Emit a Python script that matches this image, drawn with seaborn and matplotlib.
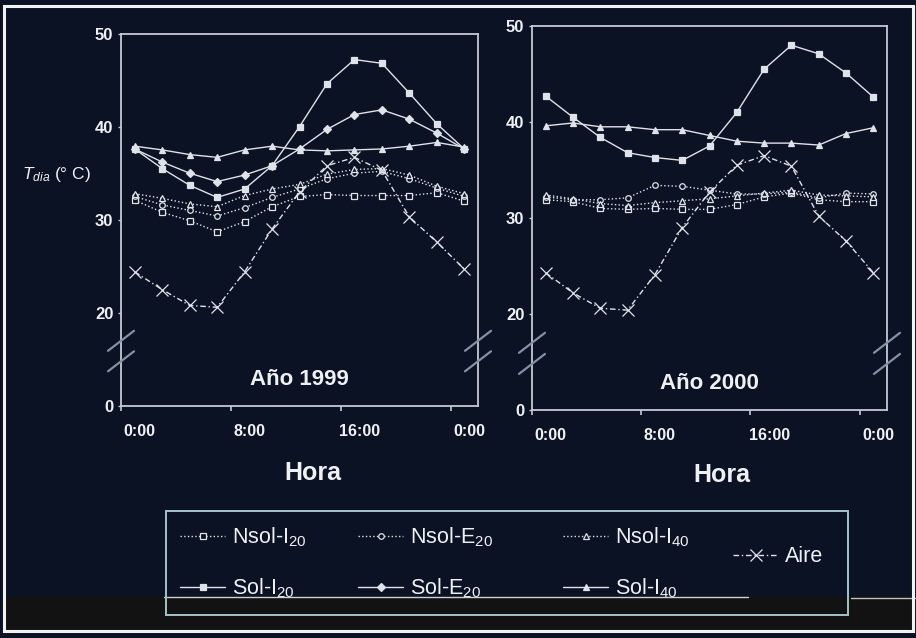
import numpy as np
import pandas as pd
import seaborn as sns
import matplotlib.pyplot as plt
from matplotlib.lines import Line2D
from matplotlib.patches import Rectangle
from matplotlib.ticker import FixedLocator
from matplotlib.transforms import IdentityTransform, ScaledTranslation

# ---- data -----------------------------------------------------------------
horas = np.arange(0, 25, 2)                 # one value every two hours
tick_horas = [0, 8, 16, 24]
tick_labels = ["0:00", "8:00", "16:00", "0:00"]
y_ticks = [10, 20, 30, 40, 50]               # axis is broken below 20
y_tick_labels = ["0", "20", "30", "40", "50"]
series = ["Nsol-I20", "Nsol-E20", "Nsol-I40", "Aire", "Sol-I20", "Sol-E20", "Sol-I40"]

# Año 1999
nsol_i20_1999 = [32.1, 30.8, 29.9, 28.7, 29.8, 31.4, 32.5, 32.7, 32.6, 32.6, 32.6, 32.9, 32.0]
nsol_e20_1999 = [32.5, 31.6, 31.0, 30.4, 31.3, 32.4, 33.3, 34.4, 35.0, 35.2, 34.4, 33.4, 32.5]
nsol_i40_1999 = [32.8, 32.3, 31.7, 31.4, 32.6, 33.3, 33.8, 34.9, 35.4, 35.5, 34.8, 33.6, 32.8]
sol_i20_1999 = [37.6, 35.5, 33.7, 32.4, 33.3, 35.8, 40.0, 44.6, 47.2, 46.8, 43.6, 40.3, 37.6]
sol_e20_1999 = [37.6, 36.2, 35.0, 34.1, 34.8, 35.8, 37.6, 39.7, 41.3, 41.8, 40.8, 39.3, 37.6]
sol_i40_1999 = [37.9, 37.5, 37.0, 36.7, 37.5, 37.9, 37.5, 37.4, 37.5, 37.6, 37.9, 38.3, 37.8]
aire_1999 = [24.4, 22.5, 20.8, 20.6, 24.4, 29.0, 33.0, 35.8, 36.7, 35.3, 30.3, 27.6, 24.7]

# Año 2000
nsol_i20_2000 = [31.9, 31.7, 31.0, 30.9, 31.0, 30.9, 30.9, 31.4, 32.2, 32.6, 31.9, 31.7, 31.7]
nsol_e20_2000 = [32.2, 31.9, 31.9, 32.1, 33.4, 33.3, 32.9, 32.5, 32.5, 32.7, 32.1, 32.6, 32.5]
nsol_i40_2000 = [32.4, 32.0, 31.5, 31.3, 31.6, 31.8, 32.0, 32.3, 32.6, 32.9, 32.4, 32.3, 32.2]
sol_i20_2000 = [42.7, 40.5, 38.4, 36.8, 36.3, 36.0, 37.5, 41.0, 45.5, 48.0, 47.1, 45.1, 42.6]
sol_i40_2000 = [39.6, 39.9, 39.5, 39.5, 39.2, 39.2, 38.6, 38.0, 37.8, 37.8, 37.6, 38.8, 39.4]
aire_2000 = [24.3, 22.2, 20.6, 20.4, 24.1, 29.0, 32.7, 35.5, 36.5, 35.4, 30.2, 27.6, 24.3]

data_1999 = {
    "Nsol-I20": nsol_i20_1999, "Nsol-E20": nsol_e20_1999, "Nsol-I40": nsol_i40_1999,
    "Aire": aire_1999, "Sol-I20": sol_i20_1999, "Sol-E20": sol_e20_1999,
    "Sol-I40": sol_i40_1999,
}
data_2000 = {
    "Nsol-I20": nsol_i20_2000, "Nsol-E20": nsol_e20_2000, "Nsol-I40": nsol_i40_2000,
    "Aire": aire_2000, "Sol-I20": sol_i20_2000, "Sol-I40": sol_i40_2000,
}

# ---- style ----------------------------------------------------------------
BG = "#0b1224"
FG = "#eef1f4"
LINE = "#dde3e8"
SPINE = "#c3cad2"

sns.set_theme(style="ticks", rc={
    "figure.facecolor": BG, "axes.facecolor": BG, "savefig.facecolor": BG,
    "axes.edgecolor": SPINE, "axes.linewidth": 1.2,
    "text.color": FG, "axes.labelcolor": FG,
    "xtick.color": SPINE, "ytick.color": SPINE,
    "xtick.labelcolor": FG, "ytick.labelcolor": FG,
})
plt.rcParams["font.family"] = ["Liberation Sans", "DejaVu Sans"]
plt.rcParams["mathtext.fontset"] = "custom"
plt.rcParams["mathtext.rm"] = "Liberation Sans"
plt.rcParams["mathtext.it"] = "Liberation Sans:italic"
plt.rcParams["mathtext.bf"] = "Liberation Sans:bold"

styles = {
    "Nsol-I20": dict(ls=":", marker="s", ms=4.0, mfc=BG, mec=LINE),
    "Nsol-E20": dict(ls=":", marker="o", ms=4.0, mfc=BG, mec=LINE),
    "Nsol-I40": dict(ls=":", marker="^", ms=4.2, mfc=BG, mec=LINE),
    "Aire": dict(ls=(0, (4, 2, 1, 2)), marker="x", ms=8, mfc=LINE, mec=LINE),
    "Sol-I20": dict(ls="-", marker="s", ms=4.2, mfc=LINE, mec=LINE),
    "Sol-E20": dict(ls="-", marker="D", ms=3.6, mfc=LINE, mec=LINE),
    "Sol-I40": dict(ls="-", marker="^", ms=4.4, mfc=LINE, mec=LINE),
}
legend_labels = {
    "Nsol-I20": r"Nsol-I$_{20}$", "Nsol-E20": r"Nsol-E$_{20}$",
    "Nsol-I40": r"Nsol-I$_{40}$", "Aire": "Aire",
    "Sol-I20": r"Sol-I$_{20}$", "Sol-E20": r"Sol-E$_{20}$", "Sol-I40": r"Sol-I$_{40}$",
}

W, H = 916, 638
fig = plt.figure(figsize=(W / 100, H / 100), dpi=100)


def px_axes(left, top, right, bottom):
    return fig.add_axes([left / W, 1 - bottom / H, (right - left) / W, (bottom - top) / H])


ax1 = px_axes(121, 33.5, 478, 406)
ax2 = px_axes(532, 26, 887, 410)


def draw_panel(ax, data, titulo):
    for name in series:
        if name not in data:
            continue
        df = pd.DataFrame({"hora": horas, "T": data[name]})
        st = styles[name]
        sns.lineplot(data=df, x="hora", y="T", ax=ax, color=LINE, lw=1.0,
                     linestyle=st["ls"], marker=st["marker"], ms=st["ms"],
                     mfc=st["mfc"], mec=st["mec"], mew=0.9,
                     label=legend_labels[name], legend=False)
    if ax.get_legend() is not None:
        ax.get_legend().remove()

    ax.set_xlim(horas[0] - 1, horas[-1] + 1)
    ax.set_ylim(y_ticks[0], y_ticks[-1])
    ax.xaxis.set_major_locator(FixedLocator(tick_horas))
    ax.set_xticklabels(tick_labels)
    ax.xaxis.set_minor_locator(FixedLocator([h - 1 for h in tick_horas]))
    ax.set_yticks(y_ticks, y_tick_labels)
    ax.tick_params(axis="x", which="major", length=0, pad=13, labelsize=11.5)
    ax.tick_params(axis="x", which="minor", length=3.5, width=1.2, direction="out")
    ax.tick_params(axis="y", length=2.5, width=1, pad=3, labelsize=12)
    shift = ScaledTranslation(5 / 100, 0, fig.dpi_scale_trans)
    for lab in ax.get_xticklabels():
        lab.set_fontweight("bold")
        lab.set_transform(lab.get_transform() + shift)
    for lab in ax.get_yticklabels():
        lab.set_fontweight("bold")
    for sp in ax.spines.values():
        sp.set_visible(True)
        sp.set_color(SPINE)
        sp.set_linewidth(1.3)

    ax.set_xlabel("Hora", fontsize=18, fontweight="bold", color=FG)
    ax.set_ylabel("")
    ax.xaxis.label.set_va("center")
    ax.text(0.5, 0.07, titulo, transform=ax.transAxes, ha="center", va="center",
            fontsize=16, fontweight="bold", color=FG)


draw_panel(ax1, data_1999, "Año 1999")
draw_panel(ax2, data_2000, "Año 2000")
ax1.xaxis.set_label_coords(0.538, -0.18)
ax2.xaxis.set_label_coords(0.535, -0.169)

fig.text(22 / W, 1 - 174 / H, r"$T_{dia}$ (° C)", fontsize=12.5, color=FG,
         ha="left", va="center")


# axis-break slashes on both vertical spines
def break_marks(ax, xfrac, y_values=(17.0, 14.8)):
    trans = ax.get_yaxis_transform()
    for yv in y_values:
        cx, cy = trans.transform((xfrac, yv))
        fig.add_artist(Line2D([cx - 13, cx + 13], [cy - 10, cy + 10],
                              transform=IdentityTransform(), color="#8391a4",
                              lw=1.6, zorder=4))


fig.canvas.draw()
for a in (ax1, ax2):
    break_marks(a, 0.0)
    break_marks(a, 1.0)

# legend entries built from the plotted lines of the first panel
handles, labels = ax1.get_legend_handles_labels()
lookup = dict(zip(labels, handles))
entry_pos = {
    "Nsol-I20": (180, 537), "Nsol-E20": (358, 537), "Nsol-I40": (563, 537),
    "Sol-I20": (180, 588), "Sol-E20": (358, 588), "Sol-I40": (563, 588),
    "Aire": (733, 557),
}
for name, (px, py) in entry_pos.items():
    lab = legend_labels[name]
    fig.legend(handles=[lookup[lab]], labels=[lab], loc="center left",
               bbox_to_anchor=(px / W, 1 - py / H), frameon=False,
               borderpad=0, borderaxespad=0, handlelength=2.1,
               handletextpad=0.3, fontsize=15.5, labelcolor=FG)

# dark strip at the bottom and frames
fig.add_artist(Rectangle((4 / W, 1 - 630 / H), (W - 4) / W, 33 / H,
                         transform=fig.transFigure, facecolor="#121212",
                         edgecolor="none", zorder=6))
fig.add_artist(Line2D([164 / W, 748 / W], [1 - 597 / H] * 2, transform=fig.transFigure,
                      color="#cfcfcf", lw=1.0, zorder=7))
fig.add_artist(Line2D([851 / W, 1.0], [1 - 598 / H] * 2, transform=fig.transFigure,
                      color="#bfbfbf", lw=1.0, zorder=7))
fig.add_artist(Rectangle((166 / W, 1 - 615 / H), (848 - 166) / W, (615 - 511) / H,
                         transform=fig.transFigure, facecolor="none",
                         edgecolor="#a6c2ca", lw=1.4, zorder=8))
fig.add_artist(Rectangle((4 / W, 1 - 631 / H), (913 - 4) / W, (631 - 6) / H,
                         transform=fig.transFigure, facecolor="none",
                         edgecolor="#f2f2f2", lw=2.2, zorder=9))

fig.savefig("out.png", dpi=100, facecolor=BG)
